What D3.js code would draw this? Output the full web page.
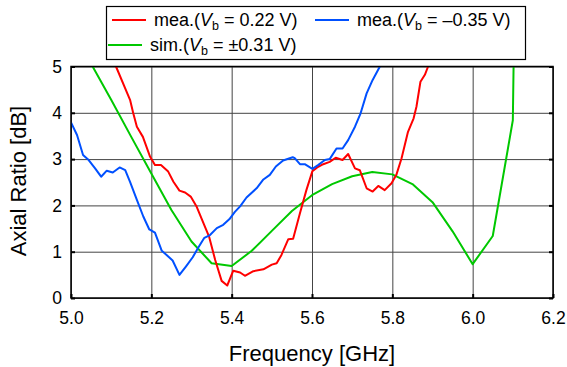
<!DOCTYPE html>
<html>
<head>
<meta charset="utf-8">
<script src="https://cdn.jsdelivr.net/npm/d3@7"></script>
<style>
  body { margin: 0; background: #fff; }
  text { font-family: "Liberation Sans", Arial, sans-serif; fill: #000; }
</style>
</head>
<body>
<script>
// Axial ratio vs frequency

var xTicks = [5.0, 5.2, 5.4, 5.6, 5.8, 6.0, 6.2];
var yTicks = [0, 1, 2, 3, 4, 5];

// measured, Vb = 0.22 V  [GHz, dB]
var meaPos = [
    [5.112, 5.0], [5.147, 4.28], [5.155, 3.99], [5.164, 3.70], [5.179, 3.48],
    [5.197, 3.05], [5.209, 2.87], [5.224, 2.87], [5.242, 2.73], [5.255, 2.51],
    [5.27, 2.32], [5.284, 2.28], [5.298, 2.19], [5.313, 1.97], [5.33, 1.61],
    [5.344, 1.32], [5.359, 0.82], [5.375, 0.37], [5.389, 0.27], [5.404, 0.59],
    [5.421, 0.55], [5.433, 0.48], [5.454, 0.58], [5.479, 0.62], [5.50, 0.72],
    [5.512, 0.75], [5.524, 0.93], [5.541, 1.27], [5.553, 1.28], [5.57, 1.83],
    [5.586, 2.33], [5.601, 2.74], [5.613, 2.82], [5.628, 2.89], [5.644, 2.94],
    [5.659, 3.03], [5.676, 2.98], [5.69, 3.11], [5.707, 2.80], [5.719, 2.76],
    [5.736, 2.37], [5.751, 2.30], [5.765, 2.42], [5.781, 2.33], [5.798, 2.48],
    [5.81, 2.66], [5.823, 3.02], [5.839, 3.59], [5.853, 3.88], [5.86, 4.13],
    [5.87, 4.67], [5.881, 4.82], [5.889, 5.0]
];

// measured, Vb = -0.35 V
var meaNeg = [
    [5.0, 3.79], [5.015, 3.52], [5.03, 3.09], [5.044, 2.98], [5.06, 2.80],
    [5.075, 2.62], [5.089, 2.75], [5.104, 2.71], [5.121, 2.82], [5.135, 2.76],
    [5.147, 2.51], [5.164, 2.12], [5.18, 1.76], [5.195, 1.48], [5.209, 1.41],
    [5.226, 1.02], [5.238, 0.93], [5.253, 0.81], [5.27, 0.50], [5.286, 0.68],
    [5.303, 0.88], [5.317, 1.09], [5.332, 1.30], [5.346, 1.36], [5.363, 1.51],
    [5.379, 1.58], [5.394, 1.70], [5.408, 1.86], [5.421, 1.98], [5.437, 2.17],
    [5.462, 2.37], [5.479, 2.56], [5.495, 2.66], [5.51, 2.84], [5.528, 2.97],
    [5.552, 3.04], [5.557, 3.02], [5.57, 2.89], [5.582, 2.89], [5.601, 2.79],
    [5.615, 2.87], [5.632, 2.98], [5.644, 3.0], [5.661, 3.23], [5.676, 3.23],
    [5.69, 3.41], [5.707, 3.70], [5.721, 3.99], [5.736, 4.42], [5.751, 4.71],
    [5.769, 5.0]
];

// simulated, Vb = +-0.31 V
var sim = [
    [5.05, 5.06], [5.10, 4.28], [5.15, 3.48], [5.20, 2.69], [5.25, 1.90],
    [5.30, 1.22], [5.35, 0.75], [5.40, 0.69], [5.45, 1.02], [5.50, 1.45],
    [5.55, 1.88], [5.60, 2.22], [5.65, 2.46], [5.70, 2.63], [5.75, 2.72],
    [5.80, 2.67], [5.85, 2.46], [5.90, 2.07], [5.95, 1.44], [6.00, 0.73],
    [6.05, 1.34], [6.10, 3.84], [6.102, 5.1]
];

var w = 567, h = 367;
var pLeft = 71, pRight = 553, pTop = 66.5, pBottom = 298;

var svg = d3.select("body").append("svg")
    .attr("width", w)
    .attr("height", h);

var xScale = d3.scaleLinear().domain([5.0, 6.2]).range([pLeft, pRight]);
var yScale = d3.scaleLinear().domain([0, 5]).range([pBottom, pTop]);

// grid
svg.append("g")
    .attr("transform", "translate(0," + pBottom + ")")
    .call(d3.axisBottom(xScale).tickValues(xTicks).tickSize(-(pBottom - pTop)).tickFormat(""))
    .call(function (g) { g.select(".domain").remove(); })
    .selectAll("line").attr("stroke", "#444");

svg.append("g")
    .attr("transform", "translate(" + pLeft + ",0)")
    .call(d3.axisLeft(yScale).tickValues(yTicks).tickSize(-(pRight - pLeft)).tickFormat(""))
    .call(function (g) { g.select(".domain").remove(); })
    .selectAll("line").attr("stroke", "#444");

// curves
svg.append("clipPath").attr("id", "plotclip")
    .append("rect")
    .attr("x", pLeft).attr("y", pTop)
    .attr("width", pRight - pLeft).attr("height", pBottom - pTop);

var line = d3.line()
    .x(function (d) { return xScale(d[0]); })
    .y(function (d) { return yScale(d[1]); });

var series = [
    { data: sim, color: "#00c800" },
    { data: meaPos, color: "#ff0000" },
    { data: meaNeg, color: "#0050ff" }
];

svg.append("g").attr("clip-path", "url(#plotclip)")
    .selectAll("path")
    .data(series)
    .enter()
    .append("path")
    .attr("d", function (d) { return line(d.data); })
    .attr("fill", "none")
    .attr("stroke", function (d) { return d.color; })
    .attr("stroke-width", 2)
    .attr("stroke-linejoin", "round");

// frame + inward ticks
svg.append("rect")
    .attr("x", pLeft).attr("y", pTop)
    .attr("width", pRight - pLeft).attr("height", pBottom - pTop)
    .attr("fill", "none").attr("stroke", "#000").attr("stroke-width", 1.5);

var xAxis = svg.append("g")
    .attr("transform", "translate(0," + pBottom + ")")
    .call(d3.axisBottom(xScale).tickValues(xTicks).tickSize(-4).tickPadding(14)
        .tickFormat(d3.format(".1f")));
xAxis.select(".domain").remove();
xAxis.selectAll("line").attr("stroke-width", 2);
xAxis.selectAll("text").attr("font-size", 17.5);

var yAxis = svg.append("g")
    .attr("transform", "translate(" + pLeft + ",0)")
    .call(d3.axisLeft(yScale).tickValues(yTicks).tickSize(-4).tickPadding(9)
        .tickFormat(d3.format("d")));
yAxis.select(".domain").remove();
yAxis.selectAll("line").attr("stroke-width", 2);
yAxis.selectAll("text").attr("font-size", 17.5);

svg.append("g").attr("transform", "translate(" + pRight + ",0)")
    .call(d3.axisRight(yScale).tickValues(yTicks).tickSize(-4).tickFormat(""))
    .call(function (g) { g.select(".domain").remove(); })
    .selectAll("line").attr("stroke-width", 2);

// axis titles
svg.append("text")
    .attr("x", 312).attr("y", 361)
    .attr("text-anchor", "middle")
    .attr("font-size", 22)
    .text("Frequency [GHz]");

svg.append("text")
    .attr("transform", "translate(26,181) rotate(-90)")
    .attr("text-anchor", "middle")
    .attr("font-size", 22)
    .text("Axial Ratio [dB]");

// legend
svg.append("rect")
    .attr("x", 106.5).attr("y", 6.5)
    .attr("width", 419).attr("height", 53)
    .attr("fill", "#fff").attr("stroke", "#000").attr("stroke-width", 1.2);

var legendItems = [
    { x: 112, y: 20, color: "#ff0000", pre: "mea.(", val: " = 0.22 V)" },
    { x: 315, y: 20, color: "#0050ff", pre: "mea.(", val: " = \u20130.35 V)" },
    { x: 108, y: 45, color: "#00c800", pre: "sim.(", val: " = \u00b10.31 V)" }
];

var lg = svg.selectAll(".legend")
    .data(legendItems)
    .enter()
    .append("g")
    .attr("class", "legend");

lg.append("line")
    .attr("x1", function (d) { return d.x; })
    .attr("x2", function (d) { return d.x + 34; })
    .attr("y1", function (d) { return d.y; })
    .attr("y2", function (d) { return d.y; })
    .attr("stroke", function (d) { return d.color; })
    .attr("stroke-width", 2);

var lt = lg.append("text")
    .attr("x", function (d) { return d.x + 42; })
    .attr("y", function (d) { return d.y + 6; })
    .attr("font-size", 18);
lt.append("tspan").text(function (d) { return d.pre; });
lt.append("tspan").attr("font-style", "italic").text("V");
lt.append("tspan").attr("font-size", 12.5).attr("dy", 4).text("b");
lt.append("tspan").attr("dy", -4).text(function (d) { return d.val; });
</script>
</body>
</html>
